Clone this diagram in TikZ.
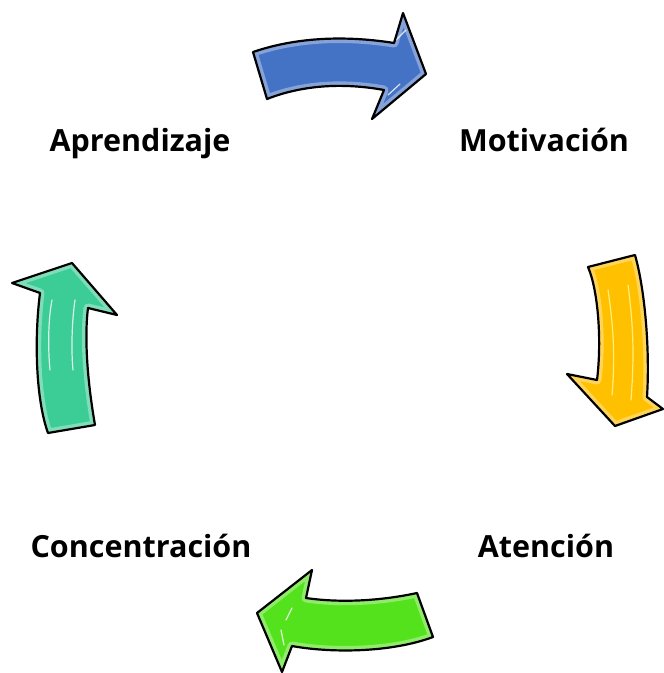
\documentclass[tikz,border=0pt]{standalone}
\usepackage{fontspec}
\setmainfont{Open Sans}
\definecolor{cblue}{RGB}{68,114,196}
\definecolor{cyellow}{RGB}{255,192,0}
\definecolor{cgreen}{RGB}{84,226,28}
\definecolor{cteal}{RGB}{60,204,150}
\tikzset{
  lbl/.style={font=\fontsize{30.5bp}{36bp}\selectfont\bfseries, anchor=base, inner sep=0pt},
  outline/.style={draw=black, line width=2.2pt, line join=round},
  glow/.style={draw=white, opacity=0.35, line width=9pt, line join=round},
  spec/.style={draw=white, opacity=0.8, line width=1.2pt, line cap=round},
  bluep/.style={insert path={(253,52) .. controls (300,36) and (350,36) .. (394,43) -- (403,13) -- (426,74) -- (372,119) -- (384,90) .. controls (340,82) and (300,86) .. (267,99) -- cycle}},
  yellowp/.style={insert path={(588,267) -- (635,255) .. controls (645,290) and (650,350) .. (647,397) -- (663,409) -- (615,426) -- (567,374) -- (597,380) .. controls (602,340) and (598,290) .. (588,267) -- cycle}},
  greenp/.style={insert path={(417,593) .. controls (380,601) and (340,603) .. (306,598) -- (312,570) -- (257,613) -- (282,672) -- (292,646) .. controls (330,653) and (390,653) .. (433,637) -- cycle}},
  tealp/.style={insert path={(48,433) -- (95,425) .. controls (88,385) and (84,340) .. (88,308) -- (117,315) -- (72,263) -- (12,283) -- (40,293) .. controls (34,340) and (36,400) .. (48,433) -- cycle}},
}
\begin{document}
\begin{tikzpicture}[x=1bp,y=-1bp]
\path[use as bounding box] (0,0) rectangle (664,673);
% blue arrow
\path[fill=cblue, bluep];
\begin{scope}\path[clip, bluep]; \path[glow, bluep]; \end{scope}
\draw[spec] (396,40) -- (406,30);
\draw[spec] (388,95) -- (400,84);
\path[outline, bluep];
% yellow arrow
\path[fill=cyellow, yellowp];
\begin{scope}\path[clip, yellowp]; \path[glow, yellowp]; \end{scope}
\draw[spec, draw=yellow!40] (608,290) .. controls (614,330) and (615,360) .. (612,395);
\draw[spec, draw=yellow!40] (628,285) .. controls (634,330) and (634,360) .. (631,400);
\path[outline, yellowp];
% green arrow
\path[fill=cgreen, greenp];
\begin{scope}\path[clip, greenp]; \path[glow, greenp]; \end{scope}
\draw[spec] (292,608) -- (286,620);
\draw[spec] (281,630) -- (284,645);
\path[outline, greenp];
% teal arrow
\path[fill=cteal, tealp];
\begin{scope}\path[clip, tealp]; \path[glow, tealp]; \end{scope}
\draw[spec] (52,300) .. controls (48,320) and (48,350) .. (50,370);
\draw[spec] (75,300) .. controls (72,320) and (71,350) .. (73,370);
\path[outline, tealp];
% labels
\node[lbl] (apr) at (140,151) {Aprendizaje};
\node[lbl] (mot) at (544,151) {Motivación};
\node[lbl] (con) at (141,557) {Concentración};
\node[lbl] (ate) at (546,557) {Atención};
\end{tikzpicture}
\end{document}
